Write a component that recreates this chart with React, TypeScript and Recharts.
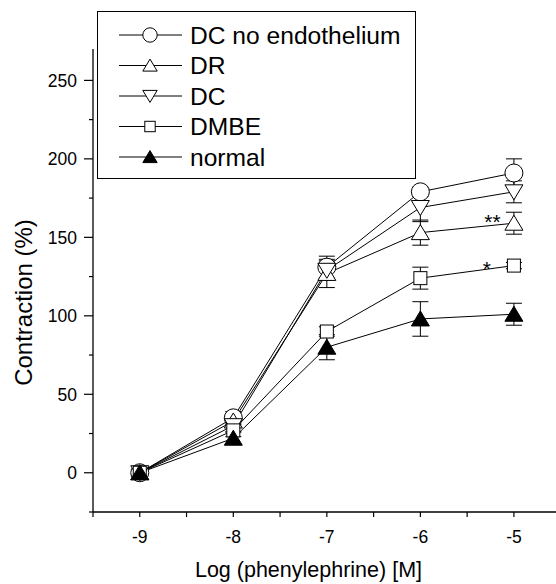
import React from 'react';
import { LineChart, Line, XAxis, YAxis, ErrorBar, Legend, ReferenceDot, Label } from 'recharts';

const logDose = [-9, -8, -7, -6, -5];

const dcNoEndo = [0, 35, 131, 179, 191];
const dcNoEndoErr = [2, 4, 7, 3, 9];
const dr = [0, 33, 127, 153, 159];
const drErr = [2, 4, 9, 8, 7];
const dc = [0, 30, 129, 169, 179];
const dcErr = [2, 4, 6, 9, 7];
const dmbe = [0, 27, 90, 124, 132];
const dmbeErr = [2, 4, 3, 7, 2];
const normal = [0, 22, 80, 98, 101];
const normalErr = [2, 4, 8, 11, 7];

const seriesNames = ['DC no endothelium', 'DR', 'DC', 'DMBE', 'normal'];
const seriesKeys = ['dcNoEndo', 'dr', 'dc', 'dmbe', 'normal'];
const seriesShapes = ['circle', 'triUp', 'triDown', 'square', 'triFilled'];

const yTicks = [-25, 0, 25, 50, 75, 100, 125, 150, 175, 200, 225, 250];
const xTicks = [-9.5, -9, -8.5, -8, -7.5, -7, -6.5, -6, -5.5, -5];
const yMajor = [0, 50, 100, 150, 200, 250];
const xMajor = [-9, -8, -7, -6, -5];

const stars = [
  { x: -5.23, y: 160, text: '**' },
  { x: -5.29, y: 130, text: '*' },
];

const data = logDose.map((x, i) => ({
  x,
  dcNoEndo: dcNoEndo[i], dcNoEndoErr: dcNoEndoErr[i],
  dr: dr[i], drErr: drErr[i],
  dc: dc[i], dcErr: dcErr[i],
  dmbe: dmbe[i], dmbeErr: dmbeErr[i],
  normal: normal[i], normalErr: normalErr[i],
}));

const FONT = 'Liberation Sans, Arial, sans-serif';

function Marker({ shape, cx, cy, s }: { shape: string; cx: number; cy: number; s: number }) {
  const stroke = '#000';
  if (shape === 'circle') return <circle cx={cx} cy={cy} r={s * 9} fill="#fff" stroke={stroke} strokeWidth={1} />;
  if (shape === 'square') { const h = 6.5 * s; return <rect x={cx - h} y={cy - h} width={2 * h} height={2 * h} fill="#fff" stroke={stroke} strokeWidth={1} />; }
  const w = 9 * s, a = 8 * s, b = 7 * s;
  if (shape === 'triDown') return <polygon points={`${cx - w},${cy - b} ${cx + w},${cy - b} ${cx},${cy + a}`} fill="#fff" stroke={stroke} strokeWidth={1} />;
  return <polygon points={`${cx},${cy - a} ${cx + w},${cy + b} ${cx - w},${cy + b}`} fill={shape === 'triFilled' ? '#000' : '#fff'} stroke={stroke} strokeWidth={1} />;
}

const makeDot = (shape: string) => (props: any) => {
  const { cx, cy, index } = props;
  if (cx == null || cy == null) return <g key={`d-${index}`} />;
  return <g key={`d-${shape}-${index}`}><Marker shape={shape} cx={cx} cy={cy} s={1} /></g>;
};

const YTick = (props: any) => {
  const { x, y, payload } = props;
  const major = yMajor.includes(payload.value);
  return (
    <g>
      <line x1={x - (major ? 9 : 4)} x2={x} y1={y} y2={y} stroke="#000" strokeWidth={1.2} />
      {major && <text x={x - 16} y={y} dy="0.36em" textAnchor="end" fontSize={17.5} fontFamily={FONT} fill="#000">{payload.value}</text>}
    </g>
  );
};

const XTick = (props: any) => {
  const { x, y, payload } = props;
  const major = xMajor.includes(payload.value);
  return (
    <g>
      <line x1={x} x2={x} y1={y} y2={y + 5} stroke="#000" strokeWidth={1.2} />
      {major && <text x={x} y={y + 31} textAnchor="middle" fontSize={17.5} fontFamily={FONT} fill="#000">{payload.value}</text>}
    </g>
  );
};

const LegendBox = () => (
  <div style={{ width: 319, height: 168, border: '1px solid #000', background: '#fff', boxSizing: 'border-box', position: 'relative' }}>
    <svg width={317} height={166} style={{ position: 'absolute', left: 0, top: 0 }}>
      {seriesNames.map((name, i) => {
        const cy = 23 + i * 30.5;
        return (
          <g key={name}>
            <line x1={21} x2={84} y1={cy} y2={cy} stroke="#000" strokeWidth={1} />
            <Marker shape={seriesShapes[i]} cx={52} cy={cy} s={0.8} />
            <text x={92} y={cy} dy="0.36em" fontSize={24.6} fontFamily={FONT} fill="#000">{name}</text>
          </g>
        );
      })}
    </svg>
  </div>
);

const YLabel = (props: any) => {
  const { viewBox } = props;
  const cx = viewBox.x + 23;
  const cy = viewBox.y + viewBox.height / 2 + 22;
  return <text x={cx} y={cy} transform={`rotate(-90 ${cx} ${cy})`} textAnchor="middle" dy="0.36em" fontSize={24} fontFamily={FONT} fill="#000">Contraction (%)</text>;
};

const XLabel = (props: any) => {
  const { viewBox } = props;
  const cx = viewBox.x + viewBox.width / 2 - 16;
  return <text x={cx} y={viewBox.y + 65} textAnchor="middle" fontSize={21.5} fontFamily={FONT} fill="#000">Log (phenylephrine) [M]</text>;
};

export default function App() {
  return (
    <div style={{ position: 'absolute', left: 0, top: 0, background: '#fff' }}>
      <LineChart width={556} height={584} data={data} margin={{ top: 49, right: 0, bottom: 0, left: 0 }}>
        <XAxis dataKey="x" type="number" domain={[-9.5, -4.55]} ticks={xTicks} tick={<XTick />} tickLine={false} tickSize={0} tickMargin={0} height={72} interval={0} axisLine={{ stroke: '#000', strokeWidth: 1.3 }} allowDataOverflow>
          <Label content={<XLabel />} />
        </XAxis>
        <YAxis type="number" domain={[-25, 270]} ticks={yTicks} tick={<YTick />} tickLine={false} tickSize={0} tickMargin={0} width={93} interval={0} axisLine={{ stroke: '#000', strokeWidth: 1.3 }} allowDataOverflow>
          <Label content={<YLabel />} />
        </YAxis>
        <Legend layout="vertical" align="center" verticalAlign="middle" wrapperStyle={{ left: 97, top: 11, width: 319, height: 168 }} content={() => <LegendBox />} />
        {seriesKeys.map((k, i) => (
          <Line key={k} dataKey={k} name={seriesNames[i]} stroke="#000" strokeWidth={1} dot={makeDot(seriesShapes[i])} activeDot={false} isAnimationActive={false} legendType="none">
            <ErrorBar dataKey={`${k}Err`} direction="y" width={8} stroke="#000" strokeWidth={1} />
          </Line>
        ))}
        {stars.map((s) => (
          <ReferenceDot key={s.text} x={s.x} y={s.y} r={0} fill="none" stroke="none" label={{ value: s.text, position: 'center', fontSize: 21, fontFamily: FONT, fill: '#000' }} />
        ))}
      </LineChart>
    </div>
  );
}
